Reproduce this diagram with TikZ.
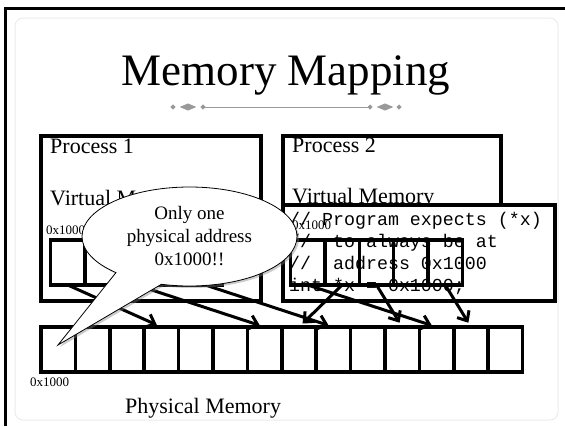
\documentclass[tikz,border=0pt]{standalone}
\usepackage{fontspec}
\setmainfont{Liberation Serif}
\setmonofont{Liberation Mono}
\usepackage{tikz}
\usetikzlibrary{positioning,shapes.callouts,shadows,arrows.meta}

\begin{document}
\begin{tikzpicture}[x=1pt,y=-1pt,node distance=34.4pt,on grid,
    >={Straight Barb[length=8pt,width=14pt]},
    frame/.style={draw,line width=4pt,fill=white,inner sep=0pt,outer sep=0pt,
      drop shadow={shadow xshift=2.5pt,shadow yshift=-2.5pt,fill=black!50,opacity=.5}},
    cell/.style={draw,line width=3.5pt,minimum width=34.4pt,minimum height=45pt,
      inner sep=0pt,outer sep=0pt},
    txt/.style={font=\fontsize{22}{26}\selectfont,inner sep=0pt,anchor=base west},
    addr/.style={font=\fontsize{13}{15}\selectfont,inner sep=0pt,anchor=base west},
    link/.style={->,line width=3pt,shorten >=5pt},
    orn/.style={draw=black!40,fill=black!40,line width=1pt},
    note/.style={ellipse callout,draw,fill=white,line width=.8pt,align=center,
      minimum width=215pt,minimum height=99pt,inner sep=0pt,callout pointer arc=28,
      font=\fontsize{19}{23}\selectfont,
      drop shadow={shadow xshift=2pt,shadow yshift=-2pt,fill=black!50,opacity=.4}}]
  \useasboundingbox (0,0) rectangle (565,426);
  % slide
  \draw[black!8,line width=1pt,rounded corners=8pt] (15,18) rectangle (558,420);
  \draw[line width=3pt] (5.5,426) -- (5.5,8.5) -- (565,8.5);
  \node[font=\fontsize{45}{52}\selectfont,inner sep=0pt,anchor=base] (title) at (286,85) {Memory Mapping};
  \draw[orn] (203,107) -- (370,107);
  \fill[orn] (173,107) circle (1.8) (203,107) circle (1.8) (370,107) circle (1.8) (399,107) circle (1.8);
  \fill[orn] (181,107) -- (188,104) -- (195,107) -- (188,110) -- cycle;
  \fill[orn] (378,107) -- (385,104) -- (392,107) -- (385,110) -- cycle;

  % processes
  \node[frame,minimum width=220pt,minimum height=164.5pt] (proc1) at (150.5,218.25) {};
  \node[frame,minimum width=218pt,minimum height=164.5pt] (proc2) at (391.5,218.25) {};
  \node[txt] (name1) at (50,153) {Process 1};
  \node[txt] (virt1) at (50,205) {Virtual Memory};
  \node[txt] (name2) at (292,152) {Process 2};
  \node[txt] (virt2) at (292,203) {Virtual Memory};
  \node[frame,minimum width=272pt,minimum height=95.5pt] (codebox) at (418.5,252.75) {};
  \node[font=\ttfamily\fontsize{18.3}{22}\selectfont,align=left,inner sep=0pt,anchor=north west]
    (code) at (289,212.5) {//~Program expects (*x)\\//~~to always be at\\//~~address 0x1000\\int *x = 0x1000;};

  % virtual pages
  \node[addr] (a1) at (46,234) {0x1000};
  \node[cell] (v1_0) at (67.7,262.5) {};
  \node[cell] (v1_1) [right=of v1_0] {};
  \node[cell] (v1_2) [right=of v1_1] {};
  \node[cell] (v1_3) [right=of v1_2] {};
  \node[cell] (v1_4) [right=of v1_3] {};
  \node[addr] (a2) at (292,229) {0x1000};
  \node[cell] (v2_0) at (307.7,262.5) {};
  \node[cell] (v2_1) [right=of v2_0] {};
  \node[cell] (v2_2) [right=of v2_1] {};
  \node[cell] (v2_3) [right=of v2_2] {};
  \node[cell] (v2_4) [right=of v2_3] {};

  % physical pages
  \node[cell] (m0) at (58.2,349.5) {};
  \node[cell] (m1) [right=of m0] {};
  \node[cell] (m2) [right=of m1] {};
  \node[cell] (m3) [right=of m2] {};
  \node[cell] (m4) [right=of m3] {};
  \node[cell] (m5) [right=of m4] {};
  \node[cell] (m6) [right=of m5] {};
  \node[cell] (m7) [right=of m6] {};
  \node[cell] (m8) [right=of m7] {};
  \node[cell] (m9) [right=of m8] {};
  \node[cell] (m10) [right=of m9] {};
  \node[cell] (m11) [right=of m10] {};
  \node[cell] (m12) [right=of m11] {};
  \node[cell] (m13) [right=of m12] {};
  \node[addr] (a3) at (30,386) {0x1000};
  \node[txt] (phys) at (125,413) {Physical Memory};

  \path[link]
    (v1_0.south) edge (m3.north)
    (v1_2.south) edge (m6.north)
    (v1_4.south) edge (m8.north)
    (v2_0.south) edge (m11.north)
    (v2_1.south) edge (m7.north)
    (v2_2.south) edge (m10.north)
    (v2_4.south) edge (m12.north);

  % callout
  \coordinate (tip) at (58,345);
  \node[note,callout absolute pointer={(tip)}] (bubble) at (189.5,236.5)
    {Only one\\physical address\\0x1000!!};
\end{tikzpicture}
\end{document}
